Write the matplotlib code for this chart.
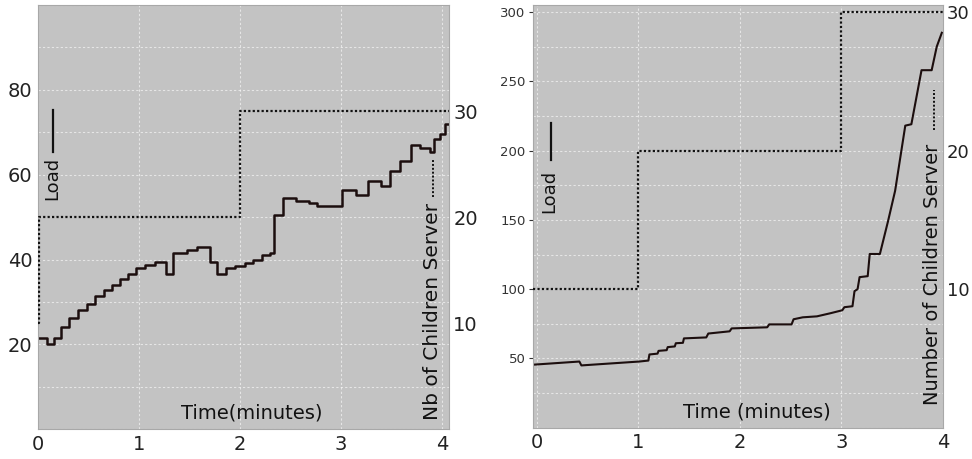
import numpy as np
import matplotlib
matplotlib.use('Agg')
import matplotlib.pyplot as plt
from matplotlib.ticker import MultipleLocator

# left panel: load (steps) and number of children
left_time = [0.00, 0.09, 0.16, 0.23, 0.31, 0.40, 0.49, 0.57, 0.65, 0.73, 0.81, 0.89, 0.97,
             1.06, 1.16, 1.27, 1.34, 1.48, 1.57, 1.70, 1.77, 1.86, 1.95, 2.05, 2.13, 2.22,
             2.30, 2.34, 2.43, 2.55, 2.68, 2.76, 3.01, 3.15, 3.27, 3.40, 3.49, 3.58, 3.69,
             3.78, 3.88, 3.92, 3.98, 4.03, 4.07]
left_load = [21.4, 20.0, 21.6, 24.2, 26.1, 28.2, 29.6, 31.3, 32.9, 34.1, 35.5, 36.7, 37.9,
             38.8, 39.3, 36.5, 41.6, 42.2, 43.0, 39.5, 36.5, 37.9, 38.4, 39.1, 40.0, 41.0,
             41.6, 50.4, 54.4, 53.9, 53.4, 52.7, 56.5, 55.3, 58.6, 57.4, 60.9, 63.3, 67.1,
             66.4, 65.4, 68.4, 69.6, 72.0, 72.0]
left_child_time = [0.0, 0.01, 2.0, 4.07]
left_children = [10, 20, 30, 30]

# right panel: load (vertices) and number of children
right_time = [-0.02, 0.42, 0.44, 1.01, 1.10, 1.11, 1.19, 1.20, 1.28, 1.29, 1.36, 1.37, 1.44,
              1.45, 1.67, 1.69, 1.90, 1.92, 2.27, 2.29, 2.51, 2.53, 2.62, 2.76, 2.89, 3.01,
              3.03, 3.11, 3.13, 3.16, 3.18, 3.26, 3.28, 3.38, 3.46, 3.53, 3.63, 3.69, 3.79,
              3.89, 3.94, 3.99]
right_load = [45.6, 47.8, 45.0, 47.8, 48.5, 52.9, 53.5, 55.5, 56.0, 58.2, 58.7, 61.0, 61.3,
              64.5, 65.2, 68.0, 69.6, 71.7, 72.5, 74.6, 74.6, 78.3, 79.7, 80.4, 82.6, 84.8,
              87.0, 87.7, 98.6, 100.0, 108.7, 109.4, 125.4, 125.4, 149.0, 171.0, 218.0,
              219.0, 258.0, 258.0, 275.0, 285.0]
right_child_time = [-0.04, 1.0, 3.0, 4.0]
right_children = [10, 20, 30, 30]

bg = '#c3c3c3'
line_col = '#1c0e0e'
dots = (0, (1, 1))

fig = plt.figure(figsize=(9.72, 4.59), dpi=100)
ax1 = fig.add_axes([0.039, 0.065, 0.423, 0.924])
ax2 = fig.add_axes([0.548, 0.068, 0.422, 0.921])


def style(ax):
    ax.set_facecolor(bg)
    for s in ax.spines.values():
        s.set_color('#a8a8a8')
    ax.grid(True, which='both', color='white', linestyle=(0, (2, 2)), linewidth=0.8, alpha=0.6)
    ax.set_axisbelow(True)


def key(ax, x, y0, y1, **kw):
    # small legend sample next to the rotated labels
    ax.plot([x, x], [y0, y1], transform=ax.transAxes, clip_on=False, **kw)


# ---- left panel
style(ax1)
ax1.plot(left_time, left_load, drawstyle='steps-post', color=line_col, lw=1.8)
ax1.set_xlim(0, 4.07)
ax1.set_ylim(0, 100)
ax1.set_xticks([0, 1, 2, 3, 4])
ax1.set_yticks([20, 40, 60, 80])
ax1.yaxis.set_minor_locator(MultipleLocator(10))
ax1.xaxis.set_minor_locator(MultipleLocator(1))
ax1.tick_params(axis='both', which='both', length=0, labelsize=14, pad=4, colors='#222222')
ax1b = ax1.twinx()
ax1b.plot(left_child_time, left_children, drawstyle='steps-post', color='#111111',
          lw=1.6, linestyle=dots)
ax1b.set_ylim(0, 40)
ax1b.set_yticks([10, 20, 30])
ax1b.tick_params(axis='y', length=0, labelsize=14, pad=3, colors='#222222')
for s in ax1b.spines.values():
    s.set_visible(False)
ax1.text(0.036, 0.54, 'Load', rotation=90, transform=ax1.transAxes,
         ha='center', va='bottom', fontsize=13, color='#111111')
key(ax1, 0.036, 0.653, 0.752, color='#111111', lw=1.6)
ax1.text(0.52, 0.038, 'Time(minutes)', transform=ax1.transAxes,
         ha='center', va='center', fontsize=14, color='#111111')
ax1.text(0.959, 0.021, 'Nb of Children Server', rotation=90,
         transform=ax1.transAxes, ha='center', va='bottom', fontsize=14.5, color='#111111')
key(ax1, 0.961, 0.547, 0.634, color='#111111', lw=1.4, linestyle=dots)

# ---- right panel
style(ax2)
ax2.plot(right_time, right_load, color=line_col, lw=1.5)
ax2.set_xlim(-0.04, 4.0)
ax2.set_ylim(0, 305)
ax2.set_xticks([0, 1, 2, 3, 4])
ax2.set_yticks([50, 100, 150, 200, 250, 300])
ax2.yaxis.set_minor_locator(MultipleLocator(25))
ax2.tick_params(axis='x', length=0, labelsize=14, pad=4, colors='#222222')
ax2.tick_params(axis='y', which='major', length=3, labelsize=9.5, pad=2, colors='#333333')
ax2.tick_params(axis='y', which='minor', length=0)
ax2b = ax2.twinx()
ax2b.plot(right_child_time, right_children, drawstyle='steps-post', color='#111111',
          lw=1.6, linestyle=dots)
ax2b.set_ylim(0, 30.5)
ax2b.set_yticks([10, 20, 30])
ax2b.tick_params(axis='y', length=0, labelsize=13, pad=3, colors='#222222')
for s in ax2b.spines.values():
    s.set_visible(False)
ax2.text(0.041, 0.508, 'Load', rotation=90, transform=ax2.transAxes,
         ha='center', va='bottom', fontsize=13, color='#111111')
key(ax2, 0.044, 0.634, 0.721, color='#111111', lw=1.6)
ax2.text(0.546, 0.038, 'Time (minutes)', transform=ax2.transAxes,
         ha='center', va='center', fontsize=14, color='#111111')
ax2.text(0.976, 0.054, 'Number of Children Server', rotation=90,
         transform=ax2.transAxes, ha='center', va='bottom', fontsize=14, color='#111111')
key(ax2, 0.978, 0.705, 0.799, color='#111111', lw=1.4, linestyle=dots)

fig.savefig('out.png', dpi=100)
